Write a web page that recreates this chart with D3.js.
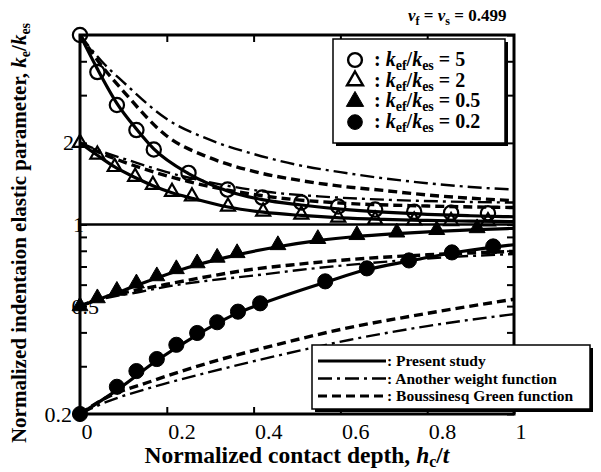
<!DOCTYPE html>
<html>
<head>
<meta charset="utf-8">
<title>Normalized indentation elastic parameter</title>
<script src="https://d3js.org/d3.v7.min.js"></script>
<style>
  body { margin: 0; background: #fff; }
  svg, svg text { font-family: "Liberation Serif", "Times New Roman", serif; }
</style>
</head>
<body>
<script>
// ---- data ----
// FEM points (markers)
var markX5  = [0, 0.04, 0.085, 0.13, 0.17, 0.25, 0.34, 0.42, 0.51, 0.595, 0.68, 0.77, 0.855, 0.94];
var markY5  = [5.0, 3.65, 2.76, 2.23, 1.89, 1.55, 1.345, 1.257, 1.205, 1.165, 1.135, 1.115, 1.105, 1.10];
var markX2  = [0, 0.04, 0.08, 0.127, 0.168, 0.212, 0.258, 0.341, 0.422, 0.51, 0.595, 0.68, 0.77, 0.855, 0.94];
var markY2  = [2.0, 1.81, 1.63, 1.50, 1.40, 1.32, 1.27, 1.165, 1.116, 1.088, 1.061, 1.043, 1.035, 1.03, 1.028];
var markX05 = [0, 0.04, 0.085, 0.13, 0.177, 0.222, 0.27, 0.316, 0.362, 0.456, 0.548, 0.638, 0.73, 0.822, 0.915];
var markY05 = [0.5, 0.535, 0.57, 0.607, 0.645, 0.685, 0.72, 0.755, 0.785, 0.84, 0.885, 0.915, 0.935, 0.955, 0.97];
var markX02 = [0, 0.085, 0.13, 0.177, 0.222, 0.27, 0.316, 0.364, 0.415, 0.565, 0.661, 0.758, 0.857, 0.952];
var markY02 = [0.2, 0.252, 0.288, 0.319, 0.360, 0.398, 0.436, 0.477, 0.512, 0.617, 0.689, 0.737, 0.789, 0.830];

// Present study (solid)
var present5  = [[0,5],[0.04,3.75],[0.085,2.8],[0.13,2.25],[0.17,1.9],[0.25,1.54],[0.34,1.33],[0.42,1.235],[0.51,1.18],[0.6,1.14],[0.7,1.11],[0.8,1.09],[0.9,1.077],[1,1.068]];
var present2  = [[0,2],[0.04,1.8],[0.08,1.63],[0.127,1.49],[0.168,1.39],[0.212,1.31],[0.258,1.25],[0.341,1.16],[0.422,1.11],[0.51,1.08],[0.6,1.058],[0.7,1.044],[0.8,1.035],[0.9,1.029],[1,1.025]];
var present05 = [[0,0.5],[0.085,0.56],[0.177,0.635],[0.27,0.71],[0.362,0.773],[0.456,0.828],[0.548,0.872],[0.638,0.903],[0.73,0.925],[0.822,0.943],[0.915,0.958],[1,0.968]];
var present02 = [[0,0.2],[0.085,0.245],[0.177,0.315],[0.27,0.392],[0.364,0.472],[0.415,0.508],[0.565,0.612],[0.661,0.682],[0.758,0.733],[0.857,0.785],[0.952,0.825],[1,0.842]];

// Another weight function (dash-dot)
var weight5  = [[0,5],[0.05,4.0],[0.1,3.35],[0.2,2.45],[0.3,2.05],[0.4,1.82],[0.5,1.66],[0.6,1.56],[0.7,1.48],[0.8,1.42],[0.9,1.375],[1,1.345]];
var weight2  = [[0,2],[0.05,1.86],[0.11,1.73],[0.2,1.56],[0.3,1.43],[0.43,1.32],[0.55,1.27],[0.7,1.235],[0.85,1.215],[1,1.205]];
var weight05 = [[0,0.5],[0.05,0.53],[0.14,0.565],[0.2,0.59],[0.3,0.622],[0.4,0.648],[0.5,0.678],[0.7,0.728],[0.85,0.758],[1,0.778]];
var weight02 = [[0,0.2],[0.05,0.218],[0.17,0.252],[0.3,0.286],[0.44,0.324],[0.62,0.375],[0.8,0.422],[1,0.467]];

// Boussinesq Green function (dashed)
var bouss5  = [[0,5],[0.05,3.85],[0.1,3.1],[0.2,2.12],[0.3,1.76],[0.4,1.57],[0.5,1.46],[0.6,1.385],[0.7,1.335],[0.8,1.285],[0.9,1.25],[1,1.225]];
var bouss2  = [[0,2],[0.05,1.83],[0.11,1.68],[0.25,1.44],[0.43,1.27],[0.6,1.2],[0.8,1.17],[1,1.155]];
var bouss05 = [[0,0.5],[0.05,0.535],[0.14,0.577],[0.2,0.602],[0.3,0.645],[0.39,0.681],[0.5,0.713],[0.6,0.738],[0.8,0.773],[1,0.796]];
var bouss02 = [[0,0.2],[0.05,0.225],[0.17,0.266],[0.3,0.31],[0.44,0.356],[0.6,0.41],[0.8,0.47],[1,0.53]];

var xTicks = [0, 0.2, 0.4, 0.6, 0.8, 1];
var yTicks = [0.2, 0.3, 0.4, 0.5, 0.6, 0.7, 0.8, 0.9, 1, 2, 3, 4, 5];
var yLabels = [0.2, 0.5, 1, 2];
var legendRatios = ["5", "2", "0.5", "0.2"];
var legendMethods = ["Present study", "Another weight function", "Boussinesq Green function"];

// ---- chart ----
var W = 601, H = 472;
var L = 80, R = 514, T = 35, B = 414;
var serif = "'Liberation Serif', 'Times New Roman', serif";

var svg = d3.select("body").append("svg")
    .attr("width", W).attr("height", H);

var x = d3.scaleLinear().domain([0, 1]).range([L, R]);
var y = d3.scaleLog().domain([0.2, 5]).range([B, T]);

var line = d3.line()
    .x(function(d) { return x(d[0]); })
    .y(function(d) { return y(d[1]); })
    .curve(d3.curveMonotoneX);

// reference line at 1
svg.append("line")
    .attr("x1", L).attr("x2", R).attr("y1", y(1)).attr("y2", y(1))
    .attr("stroke", "#000").attr("stroke-width", 2.5);

var dashDot = "14,5,3,5", dashed = "9,5";

[weight5, weight2, weight05, weight02].forEach(function(c) {
  svg.append("path").attr("d", line(c)).attr("fill", "none")
      .attr("stroke", "#000").attr("stroke-width", 2.4).attr("stroke-dasharray", dashDot);
});
[bouss5, bouss2, bouss05, bouss02].forEach(function(c) {
  svg.append("path").attr("d", line(c)).attr("fill", "none")
      .attr("stroke", "#000").attr("stroke-width", 3.4).attr("stroke-dasharray", dashed);
});
[present5, present2, present05, present02].forEach(function(c) {
  svg.append("path").attr("d", line(c)).attr("fill", "none")
      .attr("stroke", "#000").attr("stroke-width", 3.2);
});

function markers(xs, ys, type, filled, size) {
  var sym = d3.symbol().type(type).size(size);
  svg.append("g").selectAll("path")
    .data(xs.map(function(v, i) { return [v, ys[i]]; }))
    .enter().append("path")
      .attr("transform", function(d) { return "translate(" + x(d[0]) + "," + y(d[1]) + ")"; })
      .attr("d", sym)
      .attr("fill", filled ? "#000" : "none")
      .attr("stroke", "#000")
      .attr("stroke-width", filled ? 1 : 2.2);
}
markers(markX2, markY2, d3.symbolTriangle, false, 85);
markers(markX5, markY5, d3.symbolCircle, false, 160);
markers(markX05, markY05, d3.symbolTriangle, true, 110);
markers(markX02, markY02, d3.symbolCircle, true, 180);

// ---- axes ----
var fmt = d3.format("");
var gx = svg.append("g").attr("transform", "translate(0," + B + ")")
    .call(d3.axisBottom(x).tickValues(xTicks).tickSize(-7).tickPadding(9).tickFormat(fmt));
gx.attr("font-family", serif).attr("font-size", 22);
gx.selectAll("text").attr("text-anchor", "start").attr("dx", 1).attr("fill", "#000");

svg.append("g").attr("transform", "translate(0," + T + ")")
    .call(d3.axisTop(x).tickValues(xTicks.slice(1, 5)).tickSize(-7).tickFormat(""));

var gy = svg.append("g").attr("transform", "translate(" + L + ",0)")
    .call(d3.axisLeft(y).tickValues(yTicks).tickSize(-7).tickPadding(0)
      .tickFormat(function(d) { return yLabels.indexOf(d) >= 0 ? fmt(d) : ""; }));
gy.attr("font-family", serif).attr("font-size", 22);
var labelShift = { "0.2": -8, "0.5": 19, "1": 4, "2": -6 };
gy.selectAll("text")
    .attr("x", function(d) { return labelShift[fmt(d)] || 0; })
    .attr("fill", "#000");

svg.append("g").attr("transform", "translate(" + R + ",0)")
    .call(d3.axisRight(y).tickValues(yTicks).tickSize(-7).tickFormat(""));

svg.selectAll(".domain").remove();
svg.selectAll(".tick line").attr("stroke", "#000").attr("stroke-width", 2);

svg.append("rect")
    .attr("x", L).attr("y", T).attr("width", R - L).attr("height", B - T)
    .attr("fill", "none").attr("stroke", "#000").attr("stroke-width", 3);

gy.raise();

// ---- titles ----
var xt = svg.append("text").attr("x", 297).attr("y", 463)
    .attr("text-anchor", "middle").style("font-size", "23.5px").style("font-weight", "bold");
xt.append("tspan").text("Normalized contact depth,  ");
xt.append("tspan").style("font-style", "italic").text("h");
xt.append("tspan").attr("dy", 4).style("font-size", "16px").text("c");
xt.append("tspan").attr("dy", -4).text("/");
xt.append("tspan").style("font-style", "italic").text("t");

var yt = svg.append("text").attr("transform", "translate(26,233) rotate(-90)")
    .attr("text-anchor", "middle").style("font-size", "21px").style("font-weight", "bold");
yt.append("tspan").text("Normalized indentaion elastic parameter, ");
yt.append("tspan").style("font-style", "italic").text("k");
yt.append("tspan").attr("dy", 4).style("font-size", "14px").text("e");
yt.append("tspan").attr("dy", -4).text("/");
yt.append("tspan").style("font-style", "italic").text("k");
yt.append("tspan").attr("dy", 4).style("font-size", "14px").text("es");

var nu = svg.append("text").attr("x", 408).attr("y", 21)
    .style("font-size", "17px").style("font-weight", "bold");
nu.append("tspan").style("font-style", "italic").text("\u03bd");
nu.append("tspan").attr("dy", 4).style("font-size", "12px").text("f");
nu.append("tspan").attr("dy", -4).text(" = ");
nu.append("tspan").style("font-style", "italic").text("\u03bd");
nu.append("tspan").attr("dy", 4).style("font-size", "12px").text("s");
nu.append("tspan").attr("dy", -4).text(" = 0.499");

// ---- legend: ratios ----
function box(x0, y0, w, h) {
  svg.append("rect").attr("x", x0 + 3).attr("y", y0 + 3).attr("width", w).attr("height", h).attr("fill", "#000");
  svg.append("rect").attr("x", x0).attr("y", y0).attr("width", w).attr("height", h)
      .attr("fill", "#fff").attr("stroke", "#000").attr("stroke-width", 1.5);
}
box(333, 39, 172, 104);
var legSyms = [[d3.symbolCircle, false, 150], [d3.symbolTriangle, false, 110],
               [d3.symbolTriangle, true, 130], [d3.symbolCircle, true, 170]];
legendRatios.forEach(function(r, i) {
  var cy = 60 + i * 20.7;
  svg.append("path").attr("transform", "translate(355," + cy + ")")
      .attr("d", d3.symbol().type(legSyms[i][0]).size(legSyms[i][2]))
      .attr("fill", legSyms[i][1] ? "#000" : "none").attr("stroke", "#000")
      .attr("stroke-width", legSyms[i][1] ? 1 : 2.4);
  var t = svg.append("text").attr("x", 374).attr("y", cy + 6)
      .style("font-size", "20px").style("font-weight", "bold");
  t.append("tspan").text(": ");
  t.append("tspan").style("font-style", "italic").text("k");
  t.append("tspan").attr("dy", 4).style("font-size", "14px").text("ef");
  t.append("tspan").attr("dy", -4).text("/");
  t.append("tspan").style("font-style", "italic").text("k");
  t.append("tspan").attr("dy", 4).style("font-size", "14px").text("es");
  t.append("tspan").attr("dy", -4).text(" = " + r);
});

// ---- legend: methods ----
box(312, 345, 278, 64);
var legDash = [null, dashDot, dashed];
var legWidth = [3, 2.4, 3.2];
legendMethods.forEach(function(m, i) {
  var cy = 361 + i * 17.5;
  svg.append("line").attr("x1", 318).attr("x2", 386).attr("y1", cy).attr("y2", cy)
      .attr("stroke", "#000").attr("stroke-width", legWidth[i])
      .attr("stroke-dasharray", legDash[i]);
  svg.append("text").attr("x", 387).attr("y", cy + 5)
      .style("font-size", "15.5px").style("font-weight", "bold").text(": " + m);
});
</script>
</body>
</html>
